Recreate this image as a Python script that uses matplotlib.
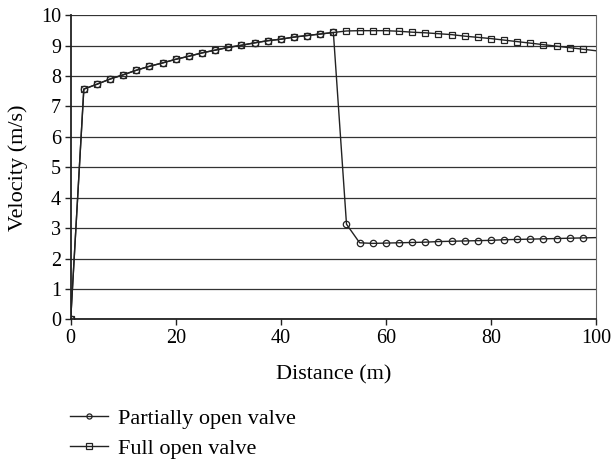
import matplotlib
matplotlib.use('Agg')
import matplotlib.pyplot as plt

plt.rcParams['font.family'] = ['Liberation Serif', 'DejaVu Serif']
plt.rcParams['font.size'] = 15

# distance along the pipe (m)
distance = [0, 2.5, 5, 7.5, 10, 12.5, 15, 17.5, 20, 22.5, 25, 27.5, 30, 32.5, 35,
            37.5, 40, 42.5, 45, 47.5, 50, 52.5, 55, 57.5, 60, 62.5, 65, 67.5, 70,
            72.5, 75, 77.5, 80, 82.5, 85, 87.5, 90, 92.5, 95, 97.5, 100]

# common part of both runs up to 50 m
common = [0, 7.57, 7.73, 7.90, 8.04, 8.19, 8.32, 8.43, 8.55, 8.65, 8.76,
          8.85, 8.94, 9.01, 9.09, 9.16, 9.21, 9.28, 9.33, 9.38, 9.43]

full_tail = [9.48, 9.49, 9.49, 9.49, 9.47, 9.44, 9.42, 9.39, 9.36, 9.31,
             9.27, 9.23, 9.18, 9.13, 9.08, 9.03, 8.98, 8.93, 8.88, 8.83]
partial_tail = [3.13, 2.52, 2.50, 2.51, 2.52, 2.53, 2.54, 2.56, 2.57, 2.58,
                2.59, 2.60, 2.62, 2.63, 2.64, 2.65, 2.66, 2.67, 2.68, 2.69]

partial = common + partial_tail
full = common + full_tail

yticks = list(range(0, 11))
xticks = [0, 20, 40, 60, 80, 100]

fig = plt.figure(figsize=(6.11, 4.59), dpi=100)
ax = fig.add_axes([0.1157, 0.304, 0.8598, 0.663])

line_col = '#222222'
marks = list(range(len(distance) - 1))  # no marker on the 100 m point

l1, = ax.plot(distance, partial, color=line_col, lw=1.0, marker='o', ms=4.6,
              mfc='none', mec=line_col, mew=0.9, markevery=marks,
              label='Partially open valve')
l2, = ax.plot(distance, full, color=line_col, lw=1.0, marker='s', ms=4.6,
              mfc='none', mec=line_col, mew=0.9, markevery=marks,
              label='Full open valve')

ax.set_xlim(0, 100)
ax.set_ylim(0, 10)
ax.set_xticks(xticks)
ax.set_yticks(yticks)
ax.yaxis.grid(True, color='#333333', lw=0.9)
ax.set_axisbelow(True)
ax.tick_params(direction='out', length=4, width=1, color='#222222', pad=3,
               labelsize=14.5)

for side in ['left', 'bottom']:
    ax.spines[side].set_color('#222222')
    ax.spines[side].set_linewidth(1.3)
ax.spines['right'].set_color('#666666')
ax.spines['top'].set_visible(False)

ax.set_xlabel('Distance (m)', fontsize=16, labelpad=12)
ax.set_ylabel('Velocity (m/s)', fontsize=16, labelpad=9)

fig.legend(handles=[l1, l2], loc='upper left', bbox_to_anchor=(0.1146, 0.111),
           frameon=False, handlelength=1.7, handletextpad=0.45, labelspacing=0.43,
           borderaxespad=0, borderpad=0, fontsize=16, markerscale=0.8)

fig.savefig('out.png', dpi=100)
